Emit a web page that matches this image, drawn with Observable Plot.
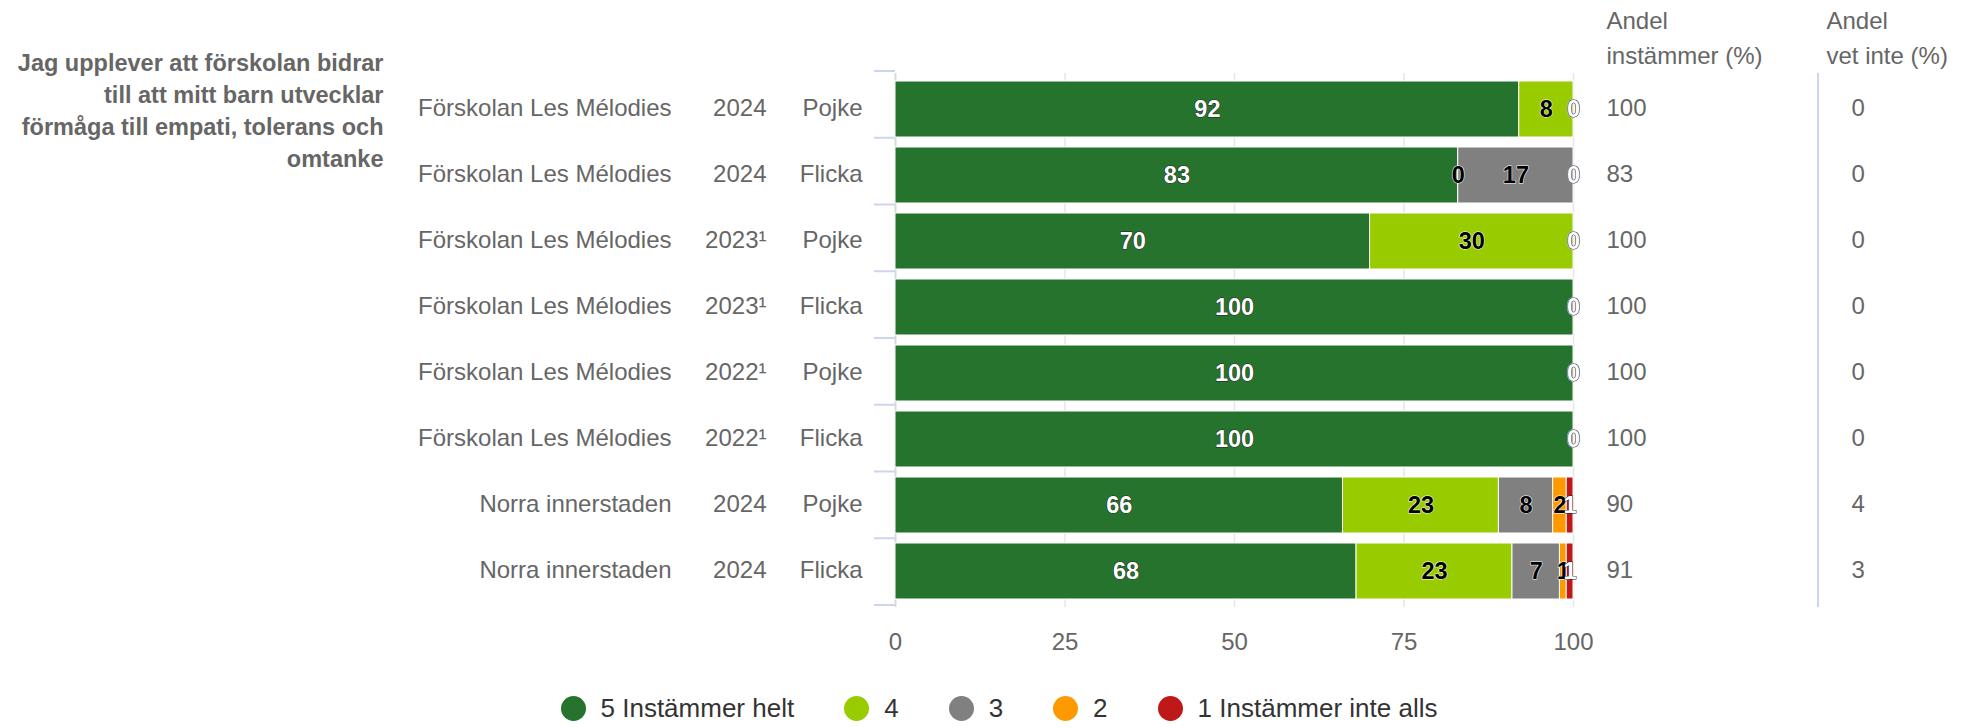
<!DOCTYPE html>
<html>
<head>
<meta charset="utf-8">
<script src="https://cdn.jsdelivr.net/npm/d3@7"></script>
<script src="https://cdn.jsdelivr.net/npm/@observablehq/plot@0.6"></script>
<style>
  html, body { margin: 0; padding: 0; background: #fff; }
  #chart { width: 1968px; }
  .legend { display: flex; justify-content: center; align-items: center; height: 37px; padding-left: 30px;
            font-family: "Liberation Sans", Arial, Helvetica, sans-serif; font-size: 26px; color: #333; }
  .legend .item { display: flex; align-items: center; margin: 0 25px; }
  .legend .sw { width: 25px; height: 25px; border-radius: 50%; margin-right: 15px; }
</style>
</head>
<body>
<div id="chart"></div>
<script>
// ---- data ----
const schools = ["Förskolan Les Mélodies", "Förskolan Les Mélodies", "Förskolan Les Mélodies", "Förskolan Les Mélodies",
                 "Förskolan Les Mélodies", "Förskolan Les Mélodies", "Norra innerstaden", "Norra innerstaden"];
const years = ["2024", "2024", "2023¹", "2023¹", "2022¹", "2022¹", "2024", "2024"];
const genders = ["Pojke", "Flicka", "Pojke", "Flicka", "Pojke", "Flicka", "Pojke", "Flicka"];
const categories = ["5 Instämmer helt", "4", "3", "2", "1 Instämmer inte alls"];
const v5 = [92, 83, 70, 100, 100, 100, 66, 68];
const v4 = [8, 0, 30, 0, 0, 0, 23, 23];
const v3 = [0, 17, 0, 0, 0, 0, 8, 7];
const v2 = [0, 0, 0, 0, 0, 0, 2, 1];
const v1 = [0, 0, 0, 0, 0, 0, 1, 1];
const andelInstammer = [100, 83, 100, 100, 100, 100, 90, 91];
const andelVetInte = [0, 0, 0, 0, 0, 0, 4, 3];
const colors = ["#26732e", "#99cc00", "#808080", "#ff9900", "#be1818"];
const labelColors = ["#ffffff", "#000000", "#000000", "#000000", "#ffffff"];
const question = "Jag upplever att förskolan bidrar\ntill att mitt barn utvecklar\nförmåga till empati, tolerans och\nomtanke";
const headInstammer = "Andel\ninstämmer (%)";
const headVetInte = "Andel\nvet inte (%)";
const xTicks = [0, 25, 50, 75, 100];

// ---- derived tables ----
const rows = schools.map((s, i) => ({
  key: `${s}|${years[i]}|${genders[i]}`, school: s, year: years[i], gender: genders[i],
  instammer: andelInstammer[i], vetinte: andelVetInte[i]
}));
const series = [v5, v4, v3, v2, v1];
const long = [];
rows.forEach((r, i) => categories.forEach((c, j) => long.push({key: r.key, category: c, ci: j, value: series[j][i]})));

const FONT = "'Liberation Sans', Arial, Helvetica, sans-serif";
const FS = 23.5;
const FSL = 24;

// decorations: band boundary ticks on the left axis + separator line on the right
function decor(index, scales, values, dim) {
  const g = d3.create("svg:g");
  const top = dim.marginTop, bottom = dim.height - dim.marginBottom;
  const left = dim.marginLeft, right = dim.width - dim.marginRight;
  const n = rows.length, step = (bottom - top) / n;
  for (let k = 0; k <= n; k++) {
    const y = top + k * step - 2;
    g.append("line").attr("x1", left - 21).attr("x2", left).attr("y1", y).attr("y2", y)
      .attr("stroke", "#ccd6eb").attr("stroke-width", 2);
  }
  g.append("line").attr("x1", right + 245).attr("x2", right + 245).attr("y1", top).attr("y2", bottom)
    .attr("stroke", "#ccd6eb").attr("stroke-width", 2);
  return g.node();
}

const chart = Plot.plot({
  width: 1968,
  height: 690,
  marginLeft: 895,
  marginRight: 395,
  marginTop: 73,
  marginBottom: 83,
  style: {fontFamily: FONT, fontSize: FS + "px", color: "#666", background: "#fff"},
  x: {domain: [0, 100]},
  y: {domain: rows.map(r => r.key), paddingInner: 0.15, paddingOuter: 0.075, axis: null},
  color: {domain: categories, range: colors},
  marks: [
    Plot.gridX({ticks: [25, 50, 75, 100], stroke: "#e6e6e6", strokeOpacity: 1, strokeWidth: 1.5}),
    Plot.ruleX([0], {stroke: "#d9d9d9", strokeWidth: 2}),
    decor,
    Plot.barX(long, {x: "value", y: "key", fill: "category", stroke: "#fff", strokeWidth: 1}),
    Plot.text(long, Plot.stackX({
      x: "value", y: "key", z: "category", text: d => String(d.value),
      fill: d => labelColors[d.ci], stroke: d => labelColors[d.ci] === "#ffffff" ? "#222" : "#fff",
      strokeWidth: 1, fontWeight: "bold", fontSize: FS, dy: 0
    })),
    // row labels
    Plot.text(rows, {y: "key", text: "school", frameAnchor: "left", dx: -224, textAnchor: "end", fill: "#666", fontSize: FSL, dy: -1}),
    Plot.text(rows, {y: "key", text: "year", frameAnchor: "left", dx: -129, textAnchor: "end", fill: "#666", fontSize: FSL, dy: -1}),
    Plot.text(rows, {y: "key", text: "gender", frameAnchor: "left", dx: -33, textAnchor: "end", fill: "#666", fontSize: FSL, dy: -1}),
    // right columns
    Plot.text(rows, {y: "key", text: d => String(d.instammer), frameAnchor: "right", dx: 33, textAnchor: "start", fill: "#666", fontSize: FSL, dy: -1}),
    Plot.text(rows, {y: "key", text: d => String(d.vetinte), frameAnchor: "right", dx: 278, textAnchor: "start", fill: "#666", fontSize: FSL, dy: -1}),
    Plot.text([headInstammer], {text: d => d, frameAnchor: "top-right", dx: 33, dy: -69, textAnchor: "start", lineAnchor: "top", lineHeight: 1.45, fill: "#666", fontSize: FSL}),
    Plot.text([headVetInte], {text: d => d, frameAnchor: "top-right", dx: 253, dy: -69, textAnchor: "start", lineAnchor: "top", lineHeight: 1.45, fill: "#666", fontSize: FSL}),
    // question
    Plot.text([question], {text: d => d, frameAnchor: "top-left", dx: -512, dy: -25, textAnchor: "end", lineAnchor: "top", lineHeight: 1.36, fill: "#666", fontWeight: "bold", fontSize: FS}),
    Plot.axisX({ticks: xTicks, tickSize: 0, tickPadding: 25, label: null, fontSize: FSL, fill: "#666"})
  ]
});
document.getElementById("chart").appendChild(chart);

// legend
const legend = d3.select("#chart").append("div").attr("class", "legend");
categories.forEach((c, i) => {
  const it = legend.append("div").attr("class", "item");
  it.append("span").attr("class", "sw").style("background", colors[i]);
  it.append("span").text(c);
});
</script>
</body>
</html>
